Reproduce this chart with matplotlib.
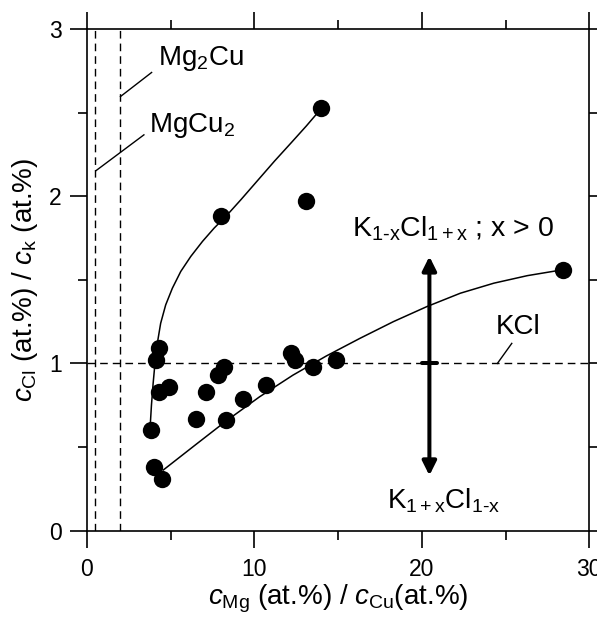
import matplotlib
matplotlib.use("Agg")
import matplotlib.pyplot as plt

# ---------------------
# DATA
# ---------------------
MG_CU_RATIO = [14.0, 13.1, 8.0, 28.4, 4.3, 4.1, 12.2, 12.4, 8.2, 7.8, 13.5,
               14.9, 4.9, 4.3, 7.1, 10.7, 9.3, 6.5, 8.3, 3.8, 4.0, 4.5]
CL_K_RATIO = [2.53, 1.97, 1.88, 1.56, 1.09, 1.02, 1.06, 1.02, 0.98, 0.93, 0.98,
              1.02, 0.86, 0.83, 0.83, 0.87, 0.79, 0.67, 0.66, 0.60, 0.38, 0.31]

# guide-to-the-eye curves
UPPER_X = [3.76, 3.85, 3.95, 4.06, 4.2, 4.4, 4.7, 5.1, 5.6, 6.2, 6.9, 7.6,
           8.3, 9.2, 10.2, 11.2, 12.2, 13.1, 14.04]
UPPER_Y = [0.60, 0.75, 0.88, 1.00, 1.12, 1.24, 1.35, 1.45, 1.55, 1.64, 1.73,
           1.81, 1.88, 1.98, 2.095, 2.21, 2.32, 2.42, 2.53]
LOWER_X = [4.56, 6.5, 8.3, 10.3, 12.3, 14.3, 16.3, 18.3, 20.3, 22.3, 24.3,
           26.3, 28.4]
LOWER_Y = [0.363, 0.515, 0.655, 0.80, 0.93, 1.045, 1.15, 1.25, 1.34, 1.42,
           1.48, 1.525, 1.56]

# stoichiometric references
MGCU2_X = 0.5
MG2CU_X = 2.0
KCL_Y = 1.0
ARROW_X = 20.45
ARROW_TOP = 1.64
ARROW_BOTTOM = 0.33

FONT = "Liberation Sans"


def style_axes(ax):
    ax.set_xlim(0, 30)
    ax.set_ylim(0, 3)
    ax.set_xticks([0, 10, 20, 30])
    ax.set_xticks([5, 15, 25], minor=True)
    ax.set_yticks([0, 1, 2, 3])
    ax.set_yticks([0.5, 1.5, 2.5], minor=True)
    ax.tick_params(which="both", direction="out", top=True, right=True,
                   width=1.2, labelsize=16.5, pad=6)
    ax.tick_params(axis="x", which="both", pad=8)
    ax.tick_params(which="major", length=12)
    ax.tick_params(which="minor", length=6.5)
    for spine in ax.spines.values():
        spine.set_linewidth(1.2)

    ax.set_xlabel(r"$c_\mathrm{Mg}$ (at.%) / $c_\mathrm{Cu}$(at.%)", fontsize=20, labelpad=1)
    ax.set_ylabel(r"$c_\mathrm{Cl}$ (at.%) / $c_\mathrm{k}$ (at.%)", fontsize=20, labelpad=7)


def main():
    plt.rcParams["font.family"] = FONT
    plt.rcParams["mathtext.fontset"] = "custom"
    plt.rcParams["mathtext.rm"] = FONT
    plt.rcParams["mathtext.it"] = FONT + ":italic"

    fig = plt.figure(figsize=(5.97, 6.18), dpi=100)
    ax = fig.add_axes([0.1457, 0.1413, 0.8414, 0.8118])

    dash = (5.5, 3.6)
    ax.axvline(MGCU2_X, color="k", lw=1.0, dashes=dash)
    ax.axvline(MG2CU_X, color="k", lw=1.0, dashes=dash)
    ax.axhline(KCL_Y, color="k", lw=1.0, dashes=dash)

    ax.plot(UPPER_X, UPPER_Y, color="k", lw=1.1)
    ax.plot(LOWER_X, LOWER_Y, color="k", lw=1.1)
    ax.plot(MG_CU_RATIO, CL_K_RATIO, "o", color="k", ms=12.5, mew=0)

    # labels with leader lines
    ax.plot([MG2CU_X, 3.86], [2.596, 2.74], color="k", lw=1.0)
    ax.text(4.24, 2.785, r"Mg$_2$Cu", fontsize=20)
    ax.plot([MGCU2_X + 0.04, 3.40], [2.153, 2.367], color="k", lw=1.0)
    ax.text(3.72, 2.384, r"MgCu$_2$", fontsize=20)
    ax.plot([24.51, 25.37], [KCL_Y, 1.12], color="k", lw=1.0)
    ax.text(24.43, 1.176, "KCl", fontsize=20)

    # off-stoichiometry arrows
    arrow_kw = dict(arrowstyle="-|>,head_length=0.6,head_width=0.3", lw=2.9,
                    color="k", mutation_scale=14, shrinkA=0, shrinkB=0)
    ax.annotate("", xy=(ARROW_X, ARROW_TOP), xytext=(ARROW_X, KCL_Y), arrowprops=arrow_kw)
    ax.annotate("", xy=(ARROW_X, ARROW_BOTTOM), xytext=(ARROW_X, KCL_Y), arrowprops=arrow_kw)
    ax.plot([ARROW_X - 0.45, ARROW_X + 0.45], [KCL_Y, KCL_Y], color="k", lw=2.9,
            solid_capstyle="round")
    ax.text(15.81, 1.762, r"K$_\mathrm{1\text{-}x}$Cl$_\mathrm{1+x}$ ; x > 0", fontsize=20.5)
    ax.text(17.94, 0.134, r"K$_\mathrm{1+x}$Cl$_\mathrm{1\text{-}x}$", fontsize=20)

    style_axes(ax)
    fig.savefig("out.png", dpi=100)
    plt.close(fig)


if __name__ == "__main__":
    main()
